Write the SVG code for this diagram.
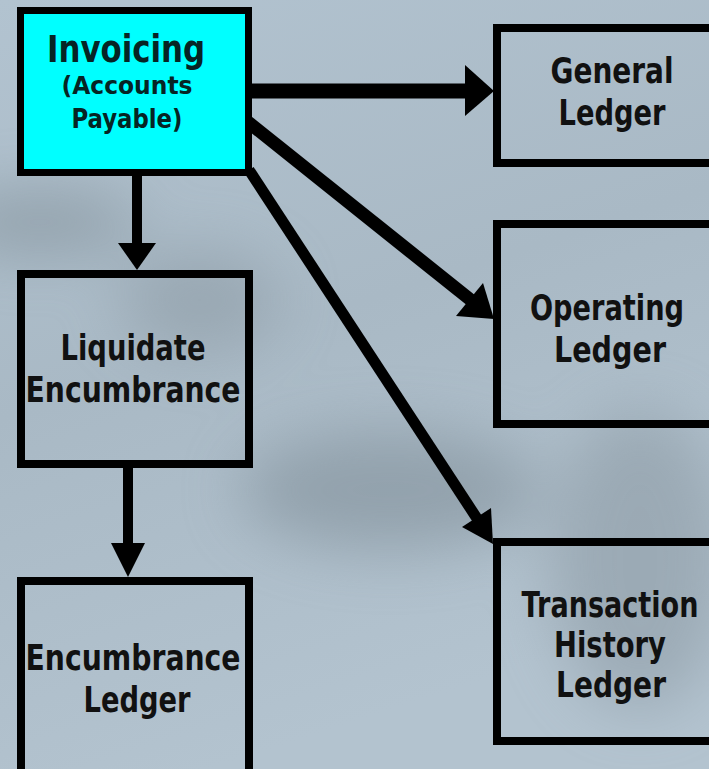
<svg xmlns="http://www.w3.org/2000/svg" width="709" height="769" viewBox="0 0 709 769">
<defs>
<linearGradient id="bg" x1="0" y1="0" x2="0.3" y2="1">
<stop offset="0" stop-color="#b2c3d0"/>
<stop offset="0.5" stop-color="#a9b9c5"/>
<stop offset="1" stop-color="#b3c3cf"/>
</linearGradient>
<filter id="blur" x="-50%" y="-50%" width="200%" height="200%"><feGaussianBlur stdDeviation="30"/></filter>
<style>
.box{fill:none;stroke:#000;stroke-width:8}
.t{font-family:"DejaVu Sans","Liberation Sans",sans-serif;font-weight:bold;fill:#111;text-anchor:middle}
.ln{stroke:#000;fill:none}
.hd{fill:#000}
</style>
</defs>
<rect width="709" height="769" fill="url(#bg)"/>
<g filter="url(#blur)" opacity="0.55">
<ellipse cx="40" cy="222" rx="100" ry="30" fill="#7a8891"/>
<ellipse cx="390" cy="490" rx="150" ry="60" fill="#7d8b95"/>
<ellipse cx="640" cy="560" rx="90" ry="150" fill="#8a98a2"/>
<ellipse cx="200" cy="300" rx="80" ry="50" fill="#8b99a3"/>
</g>

<g id="connectors">
<line class="ln" x1="137" y1="176" x2="137" y2="246" stroke-width="10"/>
<polygon class="hd" points="118,243 156,243 137,270"/>
<line class="ln" x1="128" y1="468" x2="128" y2="546" stroke-width="10"/>
<polygon class="hd" points="111,543 145,543 128,577"/>
<line class="ln" x1="252" y1="91" x2="468" y2="91" stroke-width="15"/>
<polygon class="hd" points="465,65 465,116 494,91"/>
<line class="ln" x1="248" y1="122" x2="472" y2="301" stroke-width="13"/>
<polygon class="hd" points="456,316 483,283 494,319"/>
<line class="ln" x1="249" y1="170" x2="478" y2="520" stroke-width="11"/>
<polygon class="hd" points="462,527 491,508 493,544"/>
</g>

<g id="invoicing">
<rect x="20.5" y="10.5" width="228" height="162" fill="#00ffff" stroke="#000" stroke-width="7"/>
<text class="t" x="126" y="62" font-size="37" textLength="158" lengthAdjust="spacingAndGlyphs" style="fill:#062424">Invoicing</text>
<text class="t" x="127" y="94" font-size="25" textLength="131" lengthAdjust="spacingAndGlyphs" style="fill:#062424">(Accounts</text>
<text class="t" x="127" y="128" font-size="26" textLength="111" lengthAdjust="spacingAndGlyphs" style="fill:#062424">Payable)</text>
</g>

<g id="general-ledger">
<rect class="box" x="497" y="28" width="300" height="135"/>
<text class="t" x="612" y="83" font-size="35" textLength="123" lengthAdjust="spacingAndGlyphs">General</text>
<text class="t" x="612" y="125" font-size="35" textLength="107" lengthAdjust="spacingAndGlyphs">Ledger</text>
</g>

<g id="operating-ledger">
<rect class="box" x="497" y="224" width="300" height="200"/>
<text class="t" transform="translate(607 320) scale(0.778 1)" font-size="35">Operating</text>
<text class="t" x="610" y="362" font-size="35" textLength="112" lengthAdjust="spacingAndGlyphs">Ledger</text>
</g>

<g id="transaction-history-ledger">
<rect class="box" x="497" y="542" width="300" height="199"/>
<text class="t" transform="translate(610 617) scale(0.774 1)" font-size="35">Transaction</text>
<text class="t" x="610" y="657" font-size="35" textLength="112" lengthAdjust="spacingAndGlyphs">History</text>
<text class="t" x="611" y="697" font-size="35" textLength="110" lengthAdjust="spacingAndGlyphs">Ledger</text>
</g>

<g id="liquidate-encumbrance">
<rect class="box" x="21" y="274" width="228" height="190"/>
<text class="t" x="133" y="360" font-size="36" textLength="145" lengthAdjust="spacingAndGlyphs">Liquidate</text>
<text class="t" x="133" y="402" font-size="36" textLength="215" lengthAdjust="spacingAndGlyphs">Encumbrance</text>
</g>

<g id="encumbrance-ledger">
<rect class="box" x="21" y="581" width="228" height="300"/>
<text class="t" x="133" y="670" font-size="36" textLength="215" lengthAdjust="spacingAndGlyphs">Encumbrance</text>
<text class="t" x="137" y="712" font-size="36" textLength="107" lengthAdjust="spacingAndGlyphs">Ledger</text>
</g>
</svg>
